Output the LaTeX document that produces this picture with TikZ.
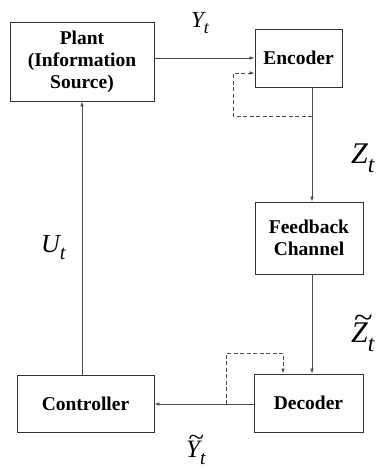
\documentclass[tikz,border=0pt]{standalone}
\usepackage{fontspec}
\setmainfont{Liberation Serif}
\usetikzlibrary{arrows.meta}

% italic symbol with a subscript, set in the given size
\newcommand{\sym}[3]{{\fontsize{#1}{#1}\selectfont\itshape #2\raisebox{-0.3em}{\fontsize{0.78\dimexpr#1\relax}{1pt}\selectfont\itshape #3}}}
% letter with a wide tilde above it
\newcommand{\tld}[1]{\makebox[0pt][l]{\kern0.1em\raisebox{0.47em}{\scalebox{1.15}[1]{\upshape\textasciitilde}}}#1}

\begin{document}
\begin{tikzpicture}[x=1pt,y=-1pt,
  block/.style={draw=black!80, line width=0.8pt, inner sep=0pt, align=center,
    font=\fontsize{19.5}{22}\selectfont\bfseries},
  link/.style={draw=black!70, line width=0.7pt, -{Latex[length=5pt,width=3.6pt]}},
  fb/.style={link, dashed, dash pattern=on 4pt off 2.5pt}
]
\useasboundingbox (0,0) rectangle (384,469);

% blocks
\node[block, minimum width=144pt, minimum height=79pt] (plant) at (82,61.5) {Plant\\(Information\\Source)};
\node[block, minimum width=87pt, minimum height=58pt] (enc) at (298.5,58) {Encoder};
\node[block, minimum width=108pt, minimum height=72pt] (chan) at (309,238) {Feedback\\Channel};
\node[block, minimum width=109pt, minimum height=58pt] (dec) at (308.5,403) {Decoder};
\node[block, minimum width=137pt, minimum height=57pt] (ctrl) at (85.5,403.5) {Controller};

% branch points of the dashed feedback paths
\coordinate (ebr) at (312,116);
\coordinate (dbr) at (226,404);

% main loop
\draw[link] (plant.east |- 0,58) -- (enc.west |- 0,58);
\draw[link] (enc.south -| ebr) -- (chan.north -| ebr);
\draw[link] (chan.south -| ebr) -- (dec.north -| ebr);
\draw[link] (dec.west |- dbr) -- (ctrl.east |- dbr);
\draw[link] (ctrl.north -| 82,0) -- (plant.south -| 82,0);

% dashed side information
\draw[fb] (ebr) -- (233,116) -- (233,73) -- (enc.west |- 0,73);
\draw[fb] (dbr) -- (226,353) -- (283,353) -- (dec.north -| 283,0);

% signal labels
\node[anchor=base west, inner sep=0pt] (ly) at (191,27) {\sym{23pt}{Y}{t}};
\node[anchor=base west, inner sep=0pt] (lz) at (351,163) {\sym{30pt}{Z}{t}};
\node[anchor=base west, inner sep=0pt] (lzt) at (351,342) {\sym{30pt}{\tld{Z}}{t}};
\node[anchor=base west, inner sep=0pt] (lu) at (41,252) {\sym{26pt}{U}{t}};
\node[anchor=base west, inner sep=0pt] (lyt) at (186,457) {\sym{25pt}{\tld{Y}}{t}};
\end{tikzpicture}
\end{document}
